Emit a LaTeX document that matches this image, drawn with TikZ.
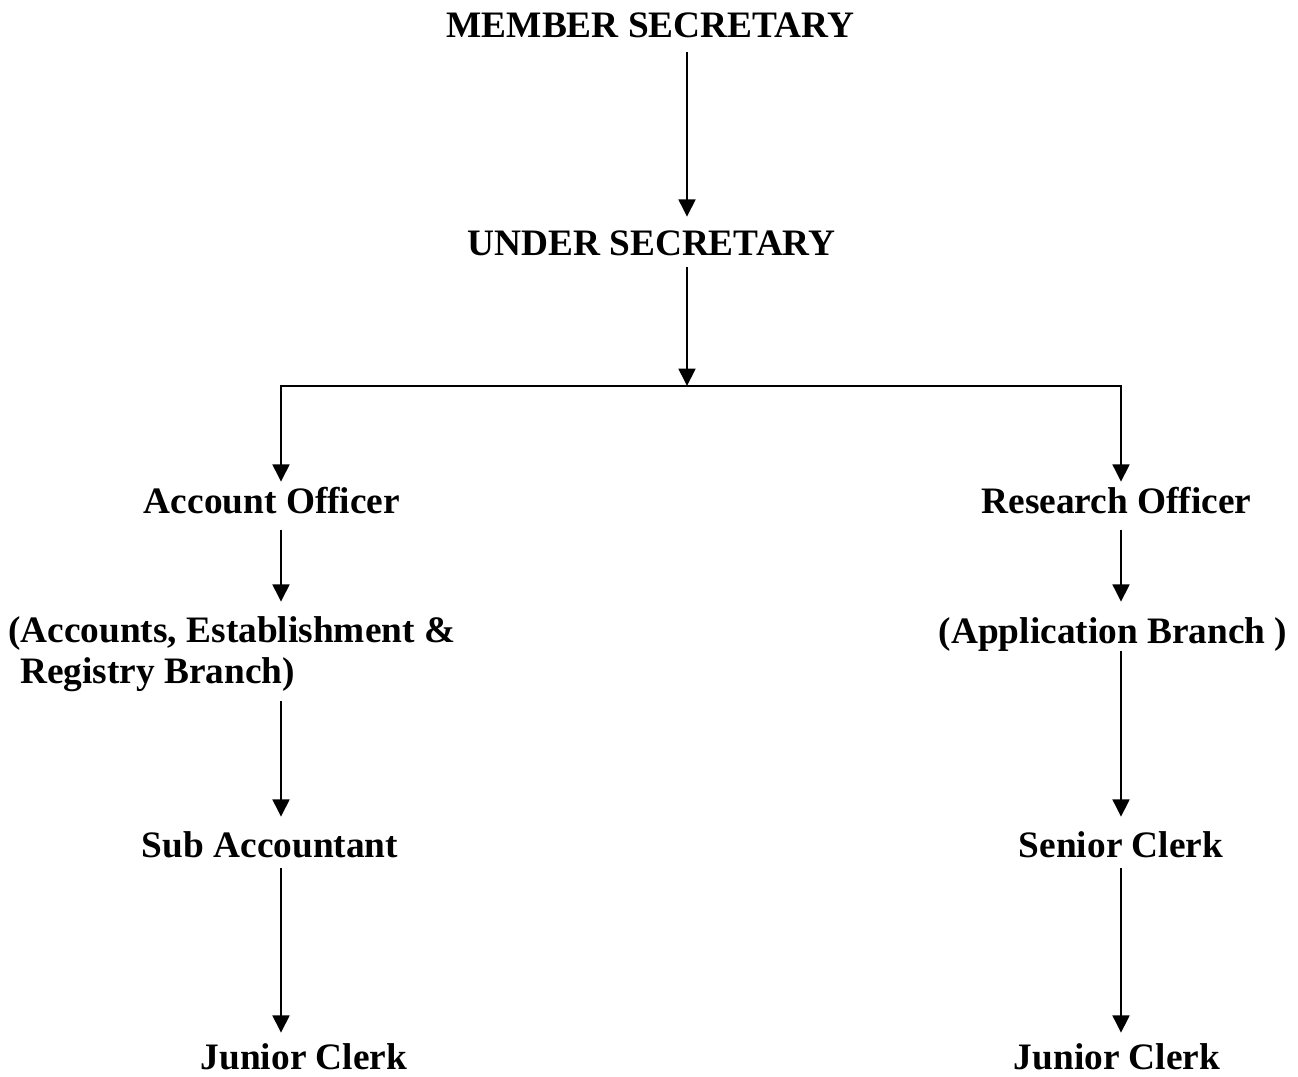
\documentclass[tikz,border=0pt]{standalone}
\usepackage{fontspec}
\setmainfont{Liberation Serif}
\usetikzlibrary{arrows.meta}
\begin{document}
\begin{tikzpicture}[x=0.75pt,y=-0.75pt,
  lbl/.style={inner sep=0pt,anchor=base,font=\fontsize{28}{34}\selectfont\bfseries},
  arr/.style={line width=2pt,-{Triangle[width=12.5pt,length=13pt]}},
  arr2/.style={line width=2pt,line join=miter,{Triangle[width=12.5pt,length=13pt]}-{Triangle[width=12.5pt,length=13pt]}}]
\useasboundingbox (0,0) rectangle (1298,1076);
\fill[white] (0,0) rectangle (1298,1076);
% positions of the vertical connectors
\coordinate (spine) at (687,0);
\coordinate (lx) at (281,0);
\coordinate (rx) at (1121,0);
\coordinate (bus) at (687,386);
% nodes
\node[lbl,text height=20.25pt,text depth=11.25pt] (ms) at (650.5,37) {MEMBER SECRETARY};
\node[lbl,text height=28.5pt,text depth=9pt] (us) at (651.5,255) {UNDER SECRETARY};
\node[lbl,text height=23.25pt,text depth=12.75pt] (ao) at (272,513) {Account Officer};
\node[lbl,text height=23.25pt,text depth=12.75pt] (ro) at (1116.5,513) {Research Officer};
\node[lbl,anchor=base west,text height=30pt,text depth=6pt] (ab1) at (8,642) {(Accounts, Establishment \&};
\node[lbl,anchor=base west,text height=20pt,text depth=13.5pt] (ab2) at (20,683) {Registry Branch)};
\node[lbl,text height=30.75pt,text depth=6pt] (rb) at (1113,643) {(Application Branch )};
\node[lbl,text height=30pt,text depth=8.25pt] (sa) at (270,857) {Sub Accountant};
\node[lbl,text height=30pt,text depth=8.25pt] (sc) at (1121,857) {Senior Clerk};
\node[lbl,text height=27pt,text depth=5pt] (jc1) at (304,1069) {Junior Clerk};
\node[lbl,text height=27pt,text depth=5pt] (jc2) at (1117,1069) {Junior Clerk};
% connectors
\draw[arr] (ms.south -| spine) -- (us.north -| spine);
\draw[arr] (us.south -| spine) -- (bus);
\draw[arr2] (ao.north -| lx) -- (lx |- bus) -- (rx |- bus) -- (ro.north -| rx);
\draw[arr] (ao.south -| lx) -- (ab1.north -| lx);
\draw[arr] (ab2.south -| lx) -- (sa.north -| lx);
\draw[arr] (sa.south -| lx) -- (jc1.north -| lx);
\draw[arr] (ro.south -| rx) -- (rb.north -| rx);
\draw[arr] (rb.south -| rx) -- (sc.north -| rx);
\draw[arr] (sc.south -| rx) -- (jc2.north -| rx);
\end{tikzpicture}
\end{document}
